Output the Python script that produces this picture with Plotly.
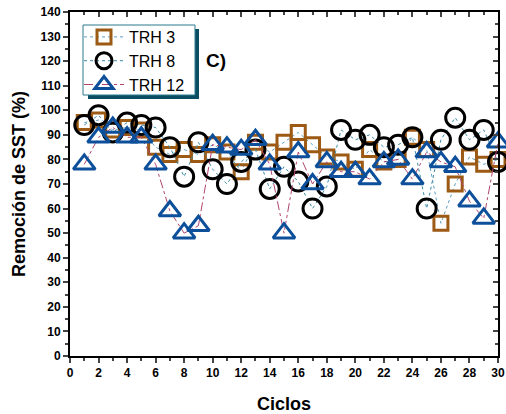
import plotly.graph_objects as go

ciclos = list(range(1, 31))
trh3 = [95, 96, 92, 93, 92, 85, 82, 84, 82, 86, 83, 75, 87, 83, 87, 91, 86, 81, 79, 76,
        84, 79, 80, 89, 84, 54, 70, 81, 78, 80]
trh8 = [94, 98, 91, 95, 94, 93, 85, 73, 87, 76, 70, 79, 84, 68, 77, 71, 60, 69, 92, 88,
        90, 85, 86, 89, 60, 88, 97, 88, 92, 79]
trh12 = [78, 89, 93, 89, 89, 78, 59, 50, 53, 86, 85, 84, 88, 78, 50, 83, 70, 79, 75, 75,
         72, 79, 80, 72, 83, 79, 77, 63, 56, 87]
x_ticks = list(range(0, 31, 2))
y_ticks = list(range(0, 141, 10))

FONT = "Arial, 'Liberation Sans', sans-serif"

fig = go.Figure()
fig.add_trace(go.Scatter(
    x=ciclos, y=trh3, name="TRH 3", mode="lines+markers", cliponaxis=False,
    line=dict(color="#5f9fbf", width=1, dash="dot"),
    marker=dict(symbol="square-open", size=14, color="#9c5a14", line=dict(width=3, color="#9c5a14"))))
fig.add_trace(go.Scatter(
    x=ciclos, y=trh8, name="TRH 8", mode="lines+markers", cliponaxis=False,
    line=dict(color="#3c8ca8", width=1, dash="dot"),
    marker=dict(symbol="circle-open", size=19, color="black", line=dict(width=3, color="black"))))
fig.add_trace(go.Scatter(
    x=ciclos, y=trh12, name="TRH 12", mode="lines+markers", cliponaxis=False,
    line=dict(color="#b04470", width=1, dash="dashdot"),
    marker=dict(symbol="triangle-up-open", size=19, color="#0d4f9a", line=dict(width=3, color="#0d4f9a"))))
# invisible trace for mirrored top/right axes
fig.add_trace(go.Scatter(x=[None], y=[None], xaxis="x2", yaxis="y2", showlegend=False, hoverinfo="skip"))

L, R, T, B = 70, 8, 12, 58
PW, PH = 506 - L - R, 414 - T - B

def px(x):
    return (x - L) / PW

def py(y):
    return (414 - B - y) / PH

fig.update_layout(
    width=506, height=414,
    margin=dict(l=L, r=R, t=T, b=B, autoexpand=False),
    paper_bgcolor="white", plot_bgcolor="white",
    font=dict(family=FONT, color="black"),
    showlegend=True,
    legend=dict(x=px(79), y=py(20), xanchor="left", yanchor="top",
                bgcolor="rgba(0,0,0,0)", borderwidth=0,
                font=dict(size=16, family=FONT), tracegroupgap=0, itemwidth=40),
    xaxis=dict(range=[0, 30], tickvals=x_ticks, ticks="outside", ticklen=5, tickwidth=2,
               showline=True, linewidth=2, linecolor="black", showgrid=False, zeroline=False,
               automargin=False,
               minor=dict(dtick=1, ticks="outside", ticklen=3, tickwidth=2, tick0=0),
               tickfont=dict(size=12, family=FONT, weight="bold"),
               title=dict(text="<b>Ciclos</b>", font=dict(size=18), standoff=18)),
    yaxis=dict(range=[0, 140], tickvals=y_ticks, ticks="outside", ticklen=5, tickwidth=2,
               showline=True, linewidth=2, linecolor="black", showgrid=False, zeroline=False,
               automargin=False,
               minor=dict(dtick=5, ticks="outside", ticklen=3, tickwidth=2, tick0=0),
               tickfont=dict(size=12, family=FONT, weight="bold"),
               title=dict(text="<b>Remoción de SST (%)</b>", font=dict(size=18), standoff=10)),
    xaxis2=dict(range=[0, 30], overlaying="x", side="top", tickvals=x_ticks, ticks="inside",
                ticklen=5, tickwidth=2, showticklabels=False, showline=True, linewidth=2,
                linecolor="black", showgrid=False, zeroline=False, automargin=False,
                minor=dict(dtick=1, ticks="inside", ticklen=3, tickwidth=2, tick0=0)),
    yaxis2=dict(range=[0, 140], overlaying="y", side="right", tickvals=y_ticks, ticks="inside",
                ticklen=5, tickwidth=2, showticklabels=False, showline=True, linewidth=2,
                linecolor="black", showgrid=False, zeroline=False, automargin=False,
                minor=dict(dtick=5, ticks="inside", ticklen=3, tickwidth=2, tick0=0)),
)

# legend shadow and box
fig.add_shape(type="rect", xref="paper", yref="paper",
              x0=px(88), x1=px(199), y0=py(99), y1=py(29),
              fillcolor="#0b4d63", line=dict(width=0), layer="above")
fig.add_shape(type="rect", xref="paper", yref="paper",
              x0=px(83), x1=px(195), y0=py(95), y1=py(25),
              fillcolor="white", line=dict(width=1, color="#2a7a90"), layer="above")

fig.add_annotation(text="<b>C)</b>", xref="paper", yref="paper",
                   x=px(216), y=py(60), showarrow=False,
                   font=dict(size=19, family=FONT), xanchor="center", yanchor="middle")

fig.write_html("out.html", config={"displayModeBar": False},
               post_script="document.body.style.margin='0';document.body.style.overflow='hidden';")
